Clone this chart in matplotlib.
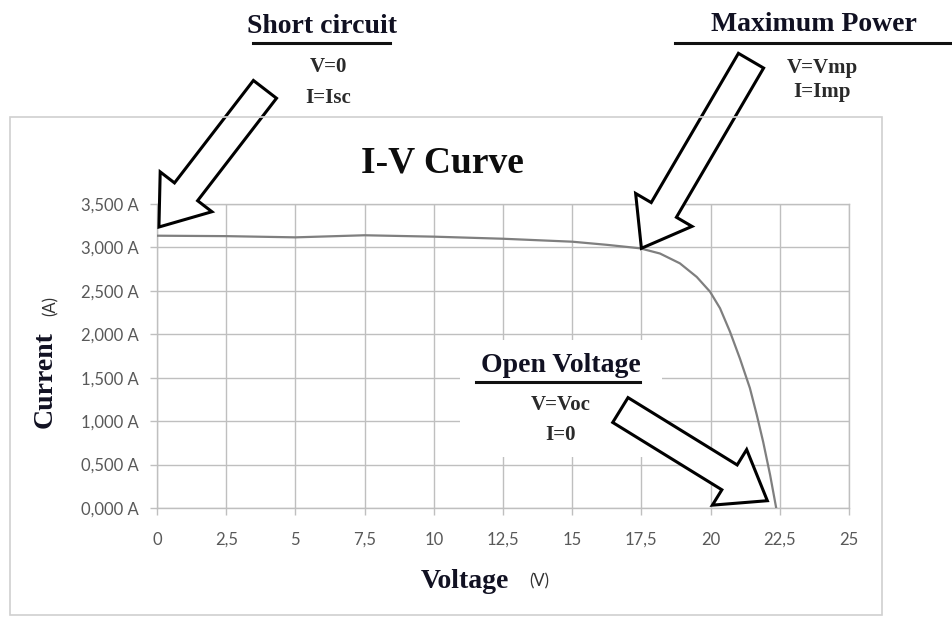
import matplotlib.pyplot as plt
from matplotlib.lines import Line2D
from matplotlib.patches import Rectangle

# I-V curve
voltage = [0, 2.5, 5, 7.5, 10, 12.5, 15, 16.25, 17.45, 18.17, 18.89, 19.5, 19.98,
           20.34, 20.7, 21.06, 21.42, 21.67, 21.9, 22.15, 22.37]
current = [3.135, 3.13, 3.116, 3.14, 3.124, 3.10, 3.066, 3.03, 2.99, 2.93, 2.817, 2.66, 2.49,
           2.30, 2.03, 1.72, 1.38, 1.07, 0.76, 0.38, 0.0]

x_ticks = [0, 2.5, 5, 7.5, 10, 12.5, 15, 17.5, 20, 22.5, 25]
x_labels = ['0', '2,5', '5', '7,5', '10', '12,5', '15', '17,5', '20', '22,5', '25']
y_ticks = [0, 0.5, 1.0, 1.5, 2.0, 2.5, 3.0, 3.5]
y_labels = ['0,000 A', '0,500 A', '1,000 A', '1,500 A', '2,000 A', '2,500 A', '3,000 A', '3,500 A']

W, H = 952, 617
serif = 'Liberation Serif'
sans = 'Lato'
grid_c = '#bfbfbf'
ink = '#111122'


def fx(px):
    return px / W


def fy(py):
    return 1 - py / H


fig = plt.figure(figsize=(W / 100, H / 100), dpi=100)
ax = fig.add_axes([fx(157), fy(508), fx(849) - fx(157), fy(204) - fy(508)])

# chart frame
fig.add_artist(Rectangle((fx(10), fy(615)), fx(882) - fx(10), fy(117) - fy(615),
                         transform=fig.transFigure, fill=False, ec='#d0d0d0', lw=1.2))

ax.plot(voltage, current, color='#7f7f7f', lw=1.6, zorder=3)

ax.set_xlim(0, 25)
ax.set_ylim(0, 3.5)
ax.set_xticks(x_ticks)
ax.set_xticklabels(x_labels)
ax.set_yticks(y_ticks)
ax.set_yticklabels(y_labels)
ax.grid(True, color=grid_c, lw=1.0)
ax.set_axisbelow(True)
for s in ax.spines.values():
    s.set_color(grid_c)
    s.set_linewidth(1.0)
ax.tick_params(axis='both', direction='out', length=5, width=1.0, color=grid_c,
               labelcolor='#595959', labelsize=12)
ax.tick_params(axis='x', pad=12)
ax.tick_params(axis='y', pad=8)
for lab in ax.get_xticklabels() + ax.get_yticklabels():
    lab.set_fontfamily(sans)

# white patch behind the "Open Voltage" note
ax.add_patch(Rectangle((10.95, 0.587), 7.3, 1.35, fc='white', ec='none', zorder=2))

# titles and axis labels
fig.text(fx(442), fy(163), 'I-V Curve', family=serif, weight='bold', size=27,
         ha='center', va='center', color='#0d0d0d')
fig.text(fx(465), fy(582), 'Voltage', family=serif, weight='bold', size=20,
         ha='center', va='center', color=ink)
fig.text(fx(539), fy(581), '(V)', family=sans, size=12,
         ha='center', va='center', color='#333333')
fig.text(fx(45), fy(380), 'Current', family=serif, weight='bold', size=20,
         ha='center', va='center', rotation=90, color=ink)
fig.text(fx(51), fy(306), '(A)', family=sans, size=12,
         ha='center', va='center', rotation=90, color='#333333')

# notes
notes = [
    ('Short circuit', 322, 33, 253, 390, 43, [('V=0', 328, 72), ('I=Isc', 328, 103)]),
    ('Maximum Power', 814, 31, 675, 952, 43, [('V=Vmp', 822, 73), ('I=Imp', 822, 97)]),
    ('Open Voltage', 561, 372, 476, 640, 382, [('V=Voc', 561, 410), ('I=0', 561, 440)]),
]
for head, hx, hy, u0, u1, uy, lines in notes:
    fig.text(fx(hx), fy(hy), head, family=serif, weight='bold', size=20,
             ha='center', va='baseline', color=ink, zorder=6)
    fig.add_artist(Line2D([fx(u0), fx(u1)], [fy(uy), fy(uy)], color='#111111', lw=2.2))
    for t, tx, ty in lines:
        fig.text(fx(tx), fy(ty), t, family=serif, weight='bold', size=15,
                 ha='center', va='baseline', color='#2a2a2a', zorder=6)

# hollow block arrows: (tip, tail) in data units
arrows = [((0.07, 3.235), (3.9, 4.82)),
          ((17.5, 2.99), (21.46, 5.15)),
          ((22.05, 0.084), (16.74, 1.128))]
for tip, tail in arrows:
    ax.annotate('', xy=tip, xytext=tail, annotation_clip=False, zorder=5,
                arrowprops=dict(arrowstyle='simple,head_length=32,head_width=47,tail_width=21',
                                mutation_scale=1, fc='white', ec='black', lw=2.2,
                                shrinkA=0, shrinkB=0, joinstyle='miter'))

fig.savefig('out.png', dpi=100)
